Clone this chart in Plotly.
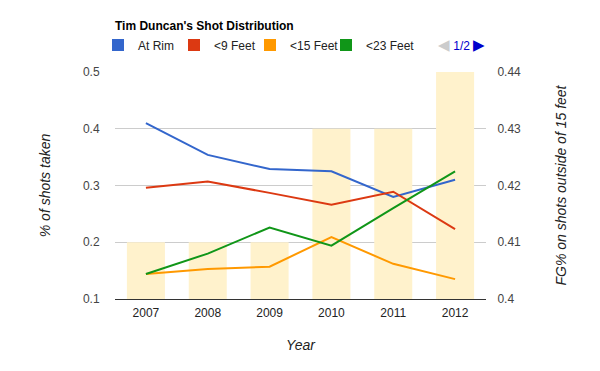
import plotly.graph_objects as go

years = ["2007", "2008", "2009", "2010", "2011", "2012"]
at_rim = [0.410, 0.354, 0.329, 0.325, 0.280, 0.310]
lt9 = [0.296, 0.307, 0.287, 0.266, 0.289, 0.223]
lt15 = [0.144, 0.153, 0.157, 0.209, 0.162, 0.135]
lt23 = [0.144, 0.180, 0.226, 0.194, 0.260, 0.325]
fg_outside15 = [0.41, 0.41, 0.41, 0.43, 0.43, 0.44]

series = [("At Rim", at_rim, "#3366cc"), ("<9 Feet", lt9, "#dc3912"),
          ("<15 Feet", lt15, "#ff9900"), ("<23 Feet", lt23, "#109618")]

FONT = "Liberation Sans, Arial, sans-serif"
L, R, T, B = 115, 486, 72, 299
PW, PH = R - L, B - T


def px_x(p):
    return (p - L) / PW


def px_y(p):
    return (B - p) / PH


fig = go.Figure()

fig.add_trace(go.Bar(x=years, y=fg_outside15, base=0, marker=dict(color="#fff2cc", line=dict(width=0)),
                     yaxis="y", showlegend=False, hoverinfo="skip"))

for name, vals, col in series:
    fig.add_trace(go.Scatter(x=years, y=vals, mode="lines", line=dict(color=col, width=2),
                             yaxis="y2", showlegend=False, name=name))
    fig.add_trace(go.Scatter(x=[None], y=[None], mode="markers", yaxis="y2", name=name,
                             marker=dict(symbol="square", size=12, color=col), showlegend=True))
# spacer entry so the last legend label is not clipped
fig.add_trace(go.Scatter(x=[None], y=[None], mode="markers", yaxis="y2", name=" ",
                         marker=dict(symbol="square", size=1, color="rgba(0,0,0,0)"), showlegend=True))

fig.update_layout(
    width=600, height=371,
    margin=dict(l=L, r=600 - R, t=T, b=371 - B, autoexpand=False),
    paper_bgcolor="white", plot_bgcolor="white",
    font=dict(family=FONT, size=12, color="#444"),
    bargap=0.385,
    title=dict(text="<b>Tim Duncan's Shot Distribution</b>", x=L / 600, xanchor="left",
               y=1 - 26 / 371, yanchor="middle", font=dict(size=12, color="#000"), automargin=False),
    legend=dict(orientation="h", x=px_x(98), xanchor="left", y=px_y(45), yanchor="middle",
                font=dict(size=12, color="#222"), itemwidth=30, entrywidth=31,
                entrywidthmode="pixels", bgcolor="rgba(0,0,0,0)", tracegroupgap=0),
    xaxis=dict(type="category", showgrid=False, showline=True, linecolor="#333", linewidth=1,
               ticks="outside", ticklen=3, tickcolor="rgba(0,0,0,0)",
               tickfont=dict(color="#222"), automargin=False,
               title=dict(text="<i>Year</i>", font=dict(color="#222"), standoff=20)),
    yaxis=dict(side="right", range=[0.4, 0.44], tickvals=[0.4, 0.41, 0.42, 0.43, 0.44],
               ticktext=["0.4", "0.41", "0.42", "0.43", "0.44"], automargin=False,
               showgrid=True, gridcolor="#cccccc", zeroline=False, showline=False,
               ticks="outside", ticklen=8, tickcolor="rgba(0,0,0,0)",
               title=dict(text="<i>FG% on shots outside of 15 feet</i>", font=dict(color="#222"), standoff=36)),
    yaxis2=dict(side="left", overlaying="y", range=[0.1, 0.5], tickvals=[0.1, 0.2, 0.3, 0.4, 0.5],
                ticktext=["0.1", "0.2", "0.3", "0.4", "0.5"], automargin=False,
                showgrid=False, zeroline=False, showline=False,
                ticks="outside", ticklen=12, tickcolor="rgba(0,0,0,0)",
                title=dict(text="<i>% of shots taken</i>", font=dict(color="#222"), standoff=29)),
)

fig.add_annotation(xref="paper", yref="paper", x=px_x(436), y=px_y(45),
                   xanchor="left", yanchor="middle", showarrow=False,
                   text="<span style='color:#cccccc;font-size:15px'>◀</span> "
                        "<span style='color:#0000cc'>1/2</span> "
                        "<span style='color:#0000cc;font-size:15px'>▶</span>",
                   font=dict(size=12))

fig.write_html("out.html", config={"displayModeBar": False},
               post_script="document.body.style.margin='0';")
